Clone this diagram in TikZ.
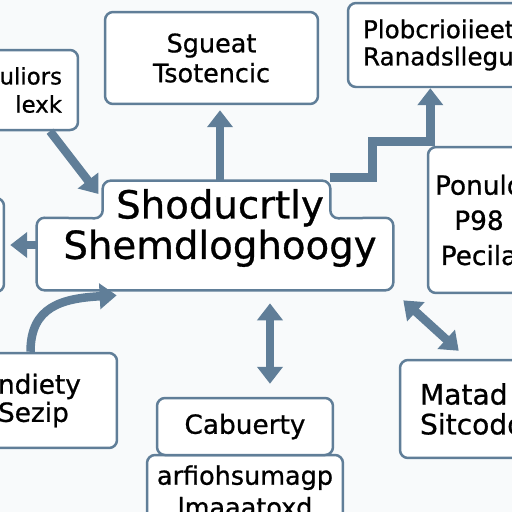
\documentclass[tikz,border=0pt]{standalone}
\usepackage{fontspec}
\setmainfont{DejaVu Sans}[FakeBold=0.8]
\usetikzlibrary{arrows.meta, positioning, calc}
\definecolor{slate}{RGB}{96,126,152}
\definecolor{paper}{RGB}{248,250,251}
\newcommand{\Size}[2]{\fontsize{#1}{#2}\selectfont}
\tikzset{
    box/.style={draw=slate, line width=0.05cm, rounded corners=0.16cm, fill=white, inner ysep=0pt},
    hubpart/.style={draw=none, inner sep=0pt},
    hubline/.style={draw=slate, line width=0.05cm, rounded corners=0.16cm, fill=white},
    flow/.style={draw=slate, line width=0.17cm, -{Triangle[length=0.34cm, width=0.5cm]}},
    dflow/.style={flow, {Triangle[length=0.34cm, width=0.5cm]}-{Triangle[length=0.34cm, width=0.5cm]}},
}

\begin{document}
\begin{tikzpicture}[x=0.02cm, y=-0.02cm]
    \useasboundingbox (0,0) rectangle (512,512);
    \clip (0,0) rectangle (512,512);
    \fill[paper] (0,0) rectangle (512,512);

    \node[box, minimum width=2.04cm, minimum height=1.6cm, inner xsep=0.32cm, text width=1.4cm, align=right, font=\Size{13}{16}] (tl) at (27,90) {uliors\\lexk};
    \node[box, minimum width=4.26cm, minimum height=1.84cm, align=center, font=\Size{14.5}{17}] (tc) at (211.5,58) {Sgueat\\Tsotencic};
    \node[box, minimum width=3.9cm, minimum height=1.68cm, inner xsep=0.3cm, text width=3.3cm, align=left, font=\Size{14}{15.5}] (tr) at (445.5,45) {Plobcrioiieet\\Ranadsllegur};
    \node[box, minimum width=1.28cm, minimum height=1.88cm] (lbox) at (-28,245) {};
    \node[box, minimum width=2.04cm, minimum height=2.92cm, inner xsep=0.07cm, text width=1.9cm, align=center, font=\Size{15}{20}] (rt) at (479,220) {Ponulo\\P98\\Pecila};
    \node[box, minimum width=2.86cm, minimum height=1.9cm, inner xsep=0.48cm, text width=1.9cm, align=left, font=\Size{15}{16}] (bl) at (45.5,400.5) {ndiety\\Sezip};
    \node[box, minimum width=3.0cm, minimum height=1.96cm, inner xsep=0.4cm, text width=2.2cm, align=left, font=\Size{16}{17}] (br) at (475,409) {Matad\\Sitcodo};
    \node[box, minimum width=3.92cm, minimum height=1.44cm, align=center, font=\Size{14.5}{18}] (bc2) at (245,491) {arfiohsumagp\\lmaaatoxd};
    \node[box, minimum width=3.52cm, minimum height=1.14cm, align=center, font=\Size{15}{18}] (bc1) at (245,426.5) {Cabuerty};

    \node[hubpart, minimum width=4.54cm, minimum height=0.74cm] (hubtab) at (216.5,199.5) {};
    \node[hubpart, minimum width=7.12cm, minimum height=1.44cm] (hubbody) at (215,254) {};
    \draw[hubline] (hubbody.south west) -- (hubbody.north west) -- (hubtab.south west) -- (hubtab.north west)
        -- (hubtab.north east) -- (hubtab.south east) -- (hubbody.north east) -- (hubbody.south east) -- cycle;
    \node[font=\Size{22}{23}, align=center, inner sep=0pt] (hub) at (220,228) {Shoducrtly\\Shemdloghoogy};

    \draw[flow, shorten >=0.14cm] ([xshift=0.46cm]tl.south) -- (hubtab.west);
    \draw[flow, shorten >=0.1cm] ([xshift=0.07cm]hubtab.north) -- ([xshift=0.07cm]hubtab.north |- tc.south);
    \draw[flow] ([yshift=0.44cm]hubtab.east) -- ++(42,0) |- ++(58,-36) coordinate (bend) -- (bend |- tr.south);
    \draw[flow, shorten >=0.1cm] (hubbody.west |- lbox.east) -- (lbox.east);
    \draw[flow] ([xshift=-0.3cm]bl.north) .. controls +(0,-45) and +(-55,3) .. ([xshift=1.6cm, yshift=-0.1cm]hubbody.south west);
    \draw[dflow, shorten <=0.26cm, shorten >=0.26cm] ([xshift=1.1cm]hubbody.south) -- ([xshift=1.1cm]hubbody.south |- bc1.north);
    \draw[dflow] ([xshift=0.2cm, yshift=-0.2cm]hubbody.south east) -- ([xshift=1.2cm, yshift=0.16cm]br.north west);
\end{tikzpicture}
\end{document}
